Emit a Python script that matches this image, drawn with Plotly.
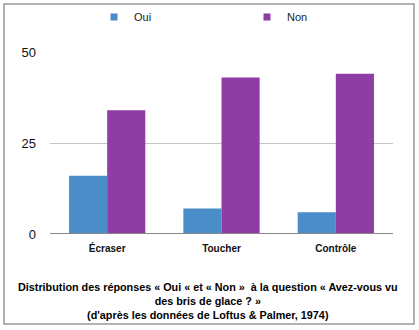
import plotly.graph_objects as go

categories = ["Écraser", "Toucher", "Contrôle"]
oui = [16, 7, 6]
non = [34, 43, 44]
yticks = [0, 25, 50]
title_text = ("Distribution des réponses « Oui « et « Non »  à la question « Avez-vous vu<br>"
              "des bris de glace ? »<br>(d'après les données de Loftus & Palmer, 1974)")

BLUE = "#4a8dc8"
PURPLE = "#8d3da4"

W, H = 419, 330
L, R, T, B = 50, 26, 52, 96
pw, ph = W - L - R, H - T - B

fig = go.Figure()
fig.add_trace(go.Bar(x=categories, y=oui, name="Oui", marker=dict(color=BLUE, line=dict(width=0)), showlegend=False))
fig.add_trace(go.Bar(x=categories, y=non, name="Non", marker=dict(color=PURPLE, line=dict(width=0)), showlegend=False))
# legend entries (small squares)
fig.add_trace(go.Scatter(x=[None], y=[None], mode="markers", name="Oui",
                         marker=dict(symbol="square", size=7, color=BLUE), legend="legend"))
fig.add_trace(go.Scatter(x=[None], y=[None], mode="markers", name="Non",
                         marker=dict(symbol="square", size=7, color=PURPLE), legend="legend2"))

def px_x(p):
    return (p - L) / pw

def px_y(p):
    return (H - B - p) / ph

legend_common = dict(orientation="h", bgcolor="rgba(0,0,0,0)", font=dict(family="Liberation Sans, Arial", size=11, color="#222"),
                     xanchor="left", yanchor="middle", itemwidth=30)
fig.update_layout(
    width=W, height=H,
    margin=dict(l=L, r=R, t=T, b=B, autoexpand=False),
    paper_bgcolor="white", plot_bgcolor="white",
    barmode="group", bargap=0.333, bargroupgap=0,
    font=dict(family="Liberation Sans, Arial", color="#111"),
    legend=dict(x=px_x(94), y=px_y(17), **legend_common),
    legend2=dict(x=px_x(247), y=px_y(17), **legend_common),
    xaxis=dict(showgrid=False, showline=False, zeroline=False,
               tickfont=dict(size=10, family="Liberation Sans, Arial", weight="bold", color="#111"),
               ticklabelstandoff=7, fixedrange=True),
    yaxis=dict(range=[0, 50], tickvals=yticks, showgrid=True, gridcolor="#c4c4c4", gridwidth=1,
               zeroline=False, showline=False, ticklabelstandoff=13,
               tickfont=dict(size=13, family="Liberation Sans, Arial", color="#111")),
    showlegend=True,
)
# zero baseline
fig.add_shape(type="line", xref="paper", yref="y", x0=0, x1=1, y0=0, y1=0,
              line=dict(color="#888", width=2))
# outer border
fig.add_shape(type="rect", xref="paper", yref="paper",
              x0=px_x(4), x1=px_x(414), y0=px_y(324), y1=px_y(4),
              line=dict(color="#999", width=1.5))
fig.add_annotation(text=title_text, xref="paper", yref="paper", x=px_x(208), y=px_y(279),
                   xanchor="center", yanchor="top", showarrow=False, align="center",
                   font=dict(size=10.8, family="Liberation Sans, Arial", weight="bold", color="#000"))

fig.write_html("out.html")
